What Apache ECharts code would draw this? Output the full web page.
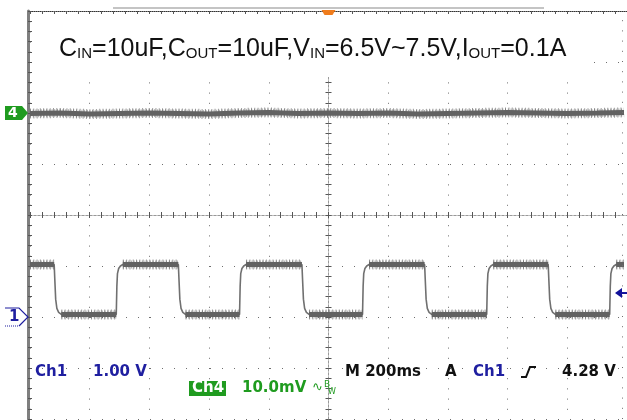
<!DOCTYPE html>
<html><head><meta charset="utf-8">
<script src="https://cdn.jsdelivr.net/npm/echarts@6/dist/echarts.min.js"></script>
<style>html,body{margin:0;padding:0;background:#fff}#c{width:627px;height:420px}</style>
</head><body><div id="c"></div>
<script>
// ---- scope settings ----
const timeMinMs = -1000, timeMaxMs = 1000, timePerDivMs = 200;   // M 200ms
const ch1VoltsPerDiv = 1.0, ch1PositionDiv = -2;                 // Ch1 1.00 V
const ch4MvPerDiv = 10.0, ch4PositionDiv = 2;                    // Ch4 10.0mV
const trigLevelCh1 = 0.47;   // trigger arrow height on Ch1 (V above marker)
const triggerTimeMs = 0;

// ---- Ch1 trace (V) ----
const ch1FallTimes = [-919, -503, -89, 322, 736];
const ch1RiseTimes = [-711, -298, 114, 530, 942];
const ch1High = 1.03, ch1Low = 0.05;
const ch1FallShape = [[0,1.03],[2,0.75],[5,0.35],[9,0.17],[15,0.09],[24,0.05]];
const ch1RiseShape = [[0,0.05],[2,0.6],[4,0.85],[8,0.95],[14,1.0],[22,1.03]];
const ch1EndMs = 990;

// ---- Ch4 trace (mV) ----
const ch4Times  = [-1000,-900,-800,-700,-600,-500,-400,-300,-200,-100,0,100,200,300,400,500,600,700,800,900,990];
const ch4Values = [-0.1,0.0,-0.2,-0.1,0.0,-0.1,-0.2,0.0,0.1,-0.1,0.0,-0.1,0.0,-0.2,-0.1,0.0,0.1,0.0,-0.1,0.0,0.1];

(function () {
const c1 = v => v / ch1VoltsPerDiv + ch1PositionDiv;
const c4 = mv => mv / ch4MvPerDiv + ch4PositionDiv;
const edges = [];
ch1FallTimes.forEach(t => edges.push({t, shape: ch1FallShape, type: 'f'}));
ch1RiseTimes.forEach(t => edges.push({t, shape: ch1RiseShape, type: 'r'}));
edges.sort((a, b) => a.t - b.t);
const ch1Line = [[timeMinMs, c1(ch1High)]];
const ch1Flats = [[timeMinMs, c1(ch1High)]];
edges.forEach((e) => {
  ch1Flats.push([e.t, c1(e.type === 'f' ? ch1High : ch1Low)]);
  ch1Flats.push([e.t + 1, '-']);
  e.shape.forEach(p => ch1Line.push([e.t + p[0], c1(p[1])]));
  const last = e.shape[e.shape.length - 1];
  ch1Flats.push([e.t + last[0], c1(e.type === 'f' ? ch1Low : ch1High)]);
});
ch1Line.push([ch1EndMs, c1(ch1High)]);
ch1Flats.push([ch1EndMs, c1(ch1High)]);
const ch4Data = ch4Times.map((t, i) => [t, c4(ch4Values[i])]);

const gridCol = '#6e6e6e', tickCol = '#555';
function centerX(inside) {
  return { type:'value', min:timeMinMs, max:timeMaxMs, interval:timePerDivMs, position:'bottom',
    axisLine:{show:true,onZero:true,lineStyle:{color:'#999',width:1,type:[2,2]}},
    axisTick:{show:true,inside,length:3,lineStyle:{color:tickCol,width:1}},
    minorTick:{show:true,splitNumber:5,length:3,lineStyle:{color:tickCol,width:1}},
    axisLabel:{show:false}, splitLine:{show:false} };
}
function centerY(inside) {
  return { type:'value', min:-4, max:4, interval:1, position:'left',
    axisLine:{show:true,onZero:true,lineStyle:{color:'#999',width:1,type:[2,2]}},
    axisTick:{show:true,inside,length:3,lineStyle:{color:tickCol,width:1}},
    minorTick:{show:true,splitNumber:5,length:3,lineStyle:{color:tickCol,width:1}},
    axisLabel:{show:false}, splitLine:{show:false} };
}
const fuzzA = {color:'rgba(90,90,90,0.6)', width:10, type:[1,2.3]};
const fuzzB = {color:'rgba(90,90,90,0.5)', width:8, type:[1,1.7]};
const core  = {color:'#626262', width:5};
const chart = echarts.init(document.getElementById('c'), null, {renderer:'canvas'});
chart.setOption({
  animation:false,
  backgroundColor:'#fff',
  grid:{left:30, top:11, width:600, height:408, containLabel:false},
  xAxis:[
    { type:'value', min:timeMinMs, max:timeMaxMs, interval:timePerDivMs, position:'top',
      axisLine:{show:true,onZero:false,lineStyle:{color:'#333',width:1,type:[1,1]}},
      axisTick:{show:true,inside:true,length:3,lineStyle:{color:tickCol,width:1}},
      minorTick:{show:true,splitNumber:5,length:3,lineStyle:{color:tickCol,width:1}},
      axisLabel:{show:false},
      splitLine:{show:true,lineStyle:{color:gridCol,width:1,type:[1,9.2]}} },
    centerX(true), centerX(false)
  ],
  yAxis:[
    { type:'value', min:-4, max:4, interval:1, position:'left', offset:2,
      axisLine:{show:true,onZero:false,lineStyle:{color:'#7f7f7f',width:3}},
      axisTick:{show:true,inside:true,length:4,lineStyle:{color:tickCol,width:1}},
      minorTick:{show:true,splitNumber:5,length:4,lineStyle:{color:tickCol,width:1}},
      axisLabel:{show:false},
      splitLine:{show:true,lineStyle:{color:gridCol,width:1,type:[1,11]}} },
    centerY(true), centerY(false)
  ],
  series:[
    { type:'line', data:ch4Data, showSymbol:false, silent:true, z:3, lineStyle:fuzzA },
    { type:'line', data:ch4Data, showSymbol:false, silent:true, z:3, lineStyle:fuzzB },
    { type:'line', data:ch4Data, showSymbol:false, silent:true, z:4, lineStyle:core },
    { type:'line', data:ch1Line, showSymbol:false, silent:true, z:3,
      lineStyle:{color:'#707070', width:1.6},
      markLine:{silent:true, symbol:'none', label:{show:false},
        lineStyle:{color:gridCol,width:1,type:[1,9.2]}, data:[{xAxis:983}]} },
    { type:'line', data:ch1Flats, showSymbol:false, silent:true, connectNulls:false, z:3, lineStyle:fuzzA },
    { type:'line', data:ch1Flats, showSymbol:false, silent:true, connectNulls:false, z:3, lineStyle:fuzzB },
    { type:'line', data:ch1Flats, showSymbol:false, silent:true, connectNulls:false, z:4, lineStyle:core }
  ]
});

const px = (t, y) => chart.convertToPixel({xAxisIndex:0, yAxisIndex:0}, [t, y]);
const y4 = px(0, ch4PositionDiv)[1];
const y1 = px(0, ch1PositionDiv)[1];
const yT = px(0, c1(trigLevelCh1))[1];
const xT = px(triggerTimeMs, 0)[0];
const gTop = px(0, 4)[1];
const blue = '#1f1fa0', green = '#1f9b1f';
const tek = 'bold 15px "DejaVu Sans"';
function txt(x, y, s, color, font) {
  return {type:'text', x, y, z:120, silent:true,
    style:{text:s, fill:color, font:font||tek, verticalAlign:'middle', align:'left'}};
}
chart.setOption({graphic:[
  {type:'line', z:120, silent:true, shape:{x1:113,y1:gTop-3,x2:544,y2:gTop-3}, style:{stroke:'#c4c4c4',lineWidth:2}},
  {type:'polygon', z:121, silent:true, shape:{points:[[xT-7,gTop-1],[xT+7,gTop-1],[xT+4,gTop+4],[xT-4,gTop+4]]}, style:{fill:'#f07c1c'}},
  {type:'rect', z:100, silent:true, shape:{x:38,y:15,width:554,height:62}, style:{fill:'#fff'}},
  {type:'text', z:110, silent:true, x:59, y:33.5, style:{
    text:'{m|C}{s|IN}{m|=10uF,C}{s|OUT}{m|=10uF,V}{s|IN}{m|=6.5V~7.5V,I}{s|OUT}{m|=0.1A}',
    verticalAlign:'top',
    rich:{ m:{fontSize:25, fontFamily:'"Liberation Sans", Arial', fill:'#111', lineHeight:28, verticalAlign:'bottom'},
           s:{fontSize:15, fontFamily:'"Liberation Sans", Arial', fill:'#111', lineHeight:16, verticalAlign:'bottom'} }}},
  {type:'polygon', z:120, silent:true, shape:{points:[[5,y4-7],[22,y4-7],[28,y4],[22,y4+7],[5,y4+7]]}, style:{fill:green}},
  txt(8, y4, '4', '#fff', 'bold 14px "DejaVu Sans"'),
  {type:'polyline', z:120, silent:true, shape:{points:[[5,y1-9],[19,y1-9],[28,y1],[19,y1+9]]}, style:{stroke:blue,lineWidth:1.2,fill:null}},
  {type:'line', z:120, silent:true, shape:{x1:5,y1:y1+9,x2:19,y2:y1+9}, style:{stroke:blue,lineWidth:1.2,lineDash:[1,1]}},
  txt(9, y1+0.5, '1', blue, 'bold 15px "DejaVu Sans"'),
  {type:'polygon', z:120, silent:true, shape:{points:[[615,yT],[622,yT-5],[622,yT+5]]}, style:{fill:'#12129a'}},
  {type:'line', z:120, silent:true, shape:{x1:621,y1:yT,x2:627,y2:yT}, style:{stroke:'#12129a',lineWidth:2}},
  txt(35, 372, 'Ch1', blue), txt(93, 372, '1.00 V', blue),
  txt(345, 372, 'M 200ms', '#111'), txt(445, 372, 'A', '#111'),
  txt(473, 372, 'Ch1', blue),
  {type:'polyline', z:120, silent:true, shape:{points:[[521,377],[526,377],[530,367],[536,367]]}, style:{stroke:'#111',lineWidth:2,fill:null}},
  txt(562, 372, '4.28 V', '#111'),
  {type:'rect', z:115, silent:true, shape:{x:189,y:381,width:37,height:15}, style:{fill:green}},
  txt(192, 388.5, 'Ch4', '#fff'),
  txt(242, 388.5, '10.0mV', green),
  txt(312, 388, '\u223F', green, '13px "DejaVu Sans"'),
  txt(324, 385, 'B', green, '9px "DejaVu Sans"'),
  txt(328, 392, 'W', green, '8px "DejaVu Sans"')
]});
})();
</script></body></html>
